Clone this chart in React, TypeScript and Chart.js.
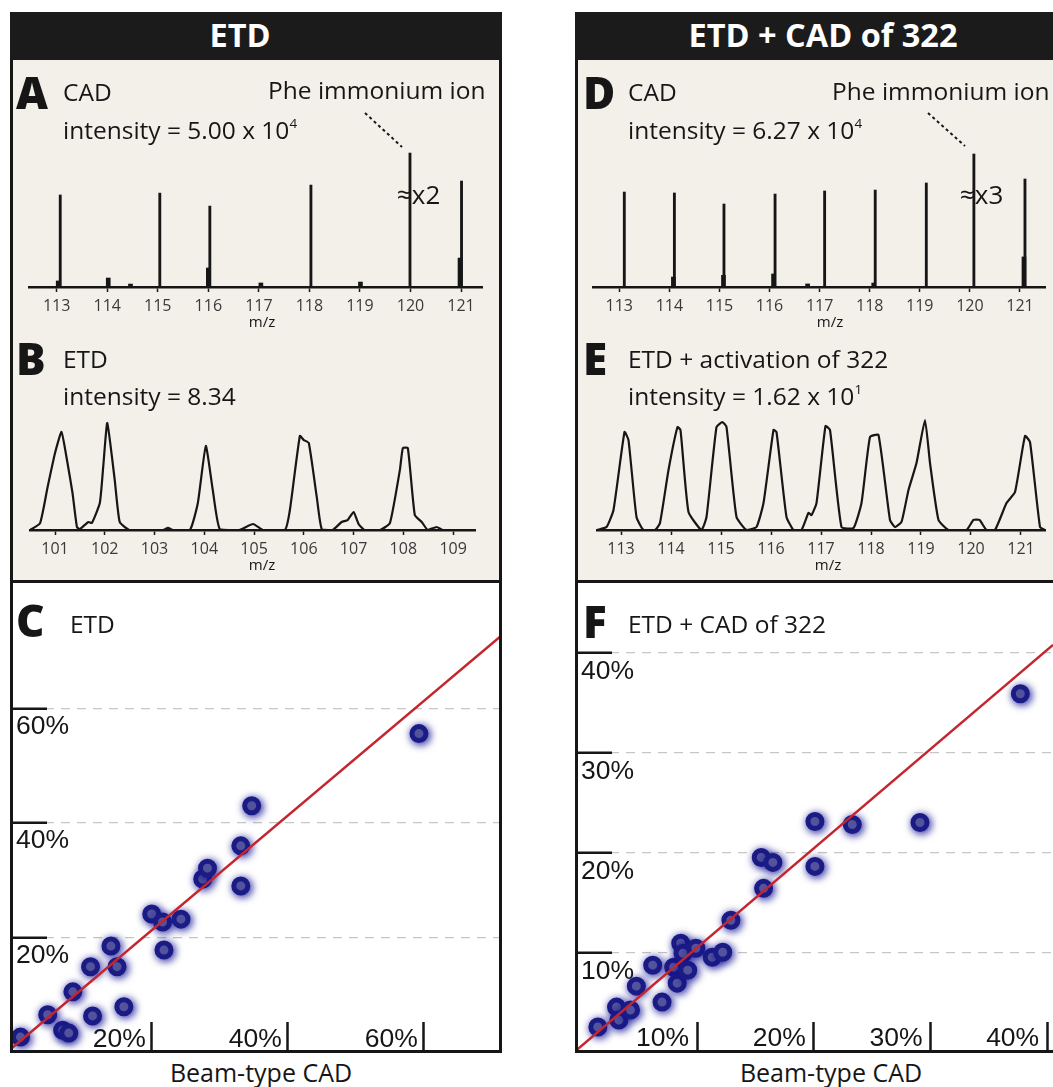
import React, { useEffect, useRef } from 'react';
import { Chart, registerables } from 'chart.js';

Chart.register(...registerables);

// ---------------- DATA ----------------
// Panel A – CAD, ETD column (stick spectrum, relative intensity; Phe immonium ion = 100)
const A_MAJOR_MZ = [113.07, 115.04, 116.03, 118.03, 119.99, 121.01];
const A_MAJOR_INT = [68.7, 70.1, 60.4, 76.1, 100, 79.1];
const A_MINOR_MZ = [113.03, 114.02, 114.46, 116.0, 117.04, 119.01, 120.98];
const A_MINOR_INT = [4.5, 6.7, 2.2, 14.2, 3.0, 3.7, 21.6];
const A_TICKS = [113, 114, 115, 116, 117, 118, 119, 120, 121];

// Panel B – ETD profile spectrum (relative intensity)
const B_MZ = [100.5, 100.7, 100.85, 101.0, 101.13, 101.24, 101.35, 101.44, 101.5, 101.67, 101.74, 101.9, 101.97, 102.05, 102.2, 102.3, 102.5, 103.17, 103.27, 103.37, 103.71, 103.87, 104.03, 104.17, 104.31, 104.7, 104.98, 105.18, 105.62, 105.72, 105.92, 106.0, 106.1, 106.26, 106.36, 106.58, 106.76, 106.88, 107.0, 107.1, 107.22, 107.53, 107.73, 107.93, 107.99, 108.09, 108.23, 108.37, 108.49, 108.67, 108.79, 109.44];
const B_INT = [0, 6.5, 40, 72, 91.6, 65.4, 35, 2.8, 0.9, 7.5, 6.5, 25.2, 60, 100, 46.7, 7.5, 0, 0, 1.9, 0, 0, 25.2, 78.5, 37.4, 0.9, 0, 5.6, 0, 0, 18.7, 87.9, 84.1, 81.3, 30.8, 0.9, 0, 7.5, 9.3, 16.8, 5.6, 0, 0, 6.5, 56, 76.6, 76.6, 14, 7.5, 0, 2.8, 0, 0];
const B_TICKS = [101, 102, 103, 104, 105, 106, 107, 108, 109];

// Panel D – CAD, ETD + CAD of 322 column
const D_MAJOR_MZ = [113.1, 114.1, 115.09, 116.11, 117.1, 118.11, 119.13, 120.08, 121.1];
const D_MAJOR_INT = [71.4, 70.7, 62.4, 69.9, 72.2, 72.9, 78.2, 100, 81.2];
const D_MINOR_MZ = [114.08, 115.08, 116.08, 116.76, 118.08, 121.08];
const D_MINOR_INT = [7.5, 8.8, 9.8, 2.3, 3.0, 22.6];
const D_TICKS = [113, 114, 115, 116, 117, 118, 119, 120, 121];

// Panel E – ETD + activation of 322 profile spectrum
const E_MZ = [112.52, 112.71, 112.85, 113.07, 113.15, 113.31, 113.45, 113.68, 113.78, 113.95, 114.13, 114.19, 114.35, 114.61, 114.71, 114.91, 115.03, 115.11, 115.31, 115.51, 115.71, 115.85, 116.05, 116.11, 116.31, 116.45, 116.61, 116.75, 116.81, 116.91, 117.09, 117.18, 117.41, 117.65, 117.81, 117.98, 118.15, 118.38, 118.48, 118.61, 118.75, 118.91, 119.08, 119.18, 119.35, 119.55, 119.91, 120.05, 120.17, 120.31, 120.48, 120.71, 120.88, 121.08, 121.18, 121.38, 121.48];
const E_INT = [0, 2.7, 18.2, 89.1, 81.8, 11.8, 0, 0, 6.4, 54.5, 93.6, 90.9, 16.4, 0, 11.8, 93.6, 98.2, 93.6, 11.8, 0, 2.7, 24.5, 90.9, 89.1, 11.8, 0, 0, 15.5, 13.6, 24.5, 94.5, 90.9, 2.7, 1.8, 24.5, 84.5, 86.4, 9.1, 2.7, 7.3, 36.4, 60.9, 100, 60.9, 9.1, 0, 0, 9.1, 9.1, 0, 0, 24.5, 34.5, 85.5, 80, 2.7, 0];
const E_TICKS = [113, 114, 115, 116, 117, 118, 119, 120, 121];

// Panel C – ETD vs beam-type CAD (%)
const C_X = [0.7, 4.7, 6.9, 7.8, 8.4, 11.0, 11.3, 14.0, 14.9, 15.9, 20.0, 21.6, 21.8, 24.3, 27.5, 28.2, 33.1, 33.1, 34.7, 59.3];
const C_Y = [2.6, 6.5, 3.8, 3.3, 10.5, 14.9, 6.3, 18.5, 14.9, 7.9, 24.1, 22.7, 17.8, 23.2, 30.2, 32.1, 36.0, 29.0, 43.0, 55.6];
const C_FIT_X = [-0.6, 71.2];
const C_FIT_Y = [0.65, 72.5];
const C_X_TICKS = [20, 40, 60];
const C_Y_TICKS = [20, 40, 60];

// Panel F – ETD + CAD of 322 vs beam-type CAD (%)
const F_X = [1.5, 3.1, 3.3, 4.3, 4.8, 6.2, 7.0, 8.0, 8.3, 8.6, 8.8, 9.2, 9.9, 11.3, 12.2, 12.9, 15.5, 16.5, 15.7, 20.1, 20.1, 23.3, 29.1, 37.7];
const F_Y = [2.5, 4.5, 3.2, 4.2, 6.6, 8.7, 5.0, 8.5, 6.9, 10.9, 9.9, 8.2, 10.4, 9.5, 10.0, 13.2, 19.5, 19.0, 16.4, 23.1, 18.6, 22.8, 23.0, 35.9];
const F_FIT_X = [-0.31, 40.5];
const F_FIT_Y = [0.2, 40.8];
const F_X_TICKS = [10, 20, 30, 40];
const F_Y_TICKS = [10, 20, 30, 40];

// ---------------- STYLE ----------------
const INK = '#161616';
const BEIGE = '#f3f0ea';
const BODY_FONT = "'Open Sans', 'Noto Sans', sans-serif";
const AXIS_FONT = "'Liberation Sans', Arial, sans-serif";

function pts(xs: number[], ys: number[]) {
  return xs.map((x, i) => ({ x, y: ys[i] }));
}

function zeroPad(s: any) {
  s.paddingLeft = 0;
  s.paddingRight = 0;
  s.paddingTop = 0;
  s.paddingBottom = 0;
}

function spectrumXAxis(min: number, max: number, ticks: number[], axisHeight: number) {
  return {
    type: 'linear',
    position: 'bottom',
    min,
    max,
    offset: false,
    afterBuildTicks: (s: any) => {
      s.ticks = ticks.map((v) => ({ value: v }));
    },
    afterFit: (s: any) => {
      s.height = axisHeight;
      zeroPad(s);
    },
    grid: { display: true, offset: false, drawOnChartArea: false, drawTicks: true, tickLength: 5, tickColor: INK, tickWidth: 1.5 },
    border: { display: true, color: INK, width: 2.5 },
    ticks: { font: { family: BODY_FONT, size: 16 }, color: '#3a3a3a', padding: 5, autoSkip: false, maxRotation: 0, minRotation: 0 },
  };
}

const baseOptions = (padL: number, padR: number) => ({
  animation: false,
  responsive: false,
  events: [],
  layout: { autoPadding: false, padding: { left: padL, right: padR, top: 0, bottom: 0 } },
  plugins: { legend: { display: false }, tooltip: { enabled: false } },
});

function stickChart(canvas: HTMLCanvasElement, c: any) {
  return new Chart(canvas, {
    type: 'bar',
    data: {
      datasets: [
        { data: pts(c.majorMz, c.majorInt), backgroundColor: INK, barThickness: 2.2, grouped: false, borderWidth: 0 },
        { data: pts(c.minorMz, c.minorInt), backgroundColor: INK, barThickness: 4, grouped: false, borderWidth: 0 },
      ],
    } as any,
    options: {
      ...baseOptions(c.padL, c.padR),
      scales: {
        x: spectrumXAxis(c.min, c.max, c.ticks, c.axisH),
        y: { display: false, min: 0, max: c.yMax },
      },
    } as any,
  });
}

function profileChart(canvas: HTMLCanvasElement, c: any) {
  return new Chart(canvas, {
    type: 'scatter',
    data: {
      datasets: [
        { data: pts(c.mz, c.int), showLine: true, borderColor: INK, borderWidth: 2.2, pointRadius: 0, tension: 0.15 },
      ],
    } as any,
    options: {
      ...baseOptions(c.padL, c.padR),
      scales: {
        x: spectrumXAxis(c.min, c.max, c.ticks, c.axisH),
        y: { display: false, min: 0, max: c.yMax },
      },
    } as any,
  });
}

const glowPlugin = {
  id: 'glow',
  beforeDatasetDraw(chart: any, args: any) {
    if (chart.data.datasets[args.index].label === 'peptides') {
      chart.ctx.save();
      chart.ctx.shadowColor = 'rgba(20,20,150,0.9)';
      chart.ctx.shadowBlur = 8;
      chart.ctx.shadowOffsetX = 1.5;
      chart.ctx.shadowOffsetY = 1.5;
    }
  },
  afterDatasetDraw(chart: any, args: any) {
    if (chart.data.datasets[args.index].label === 'peptides') {
      chart.ctx.restore();
    }
  },
};

function correlationChart(canvas: HTMLCanvasElement, c: any) {
  const tickFont = { family: AXIS_FONT, size: 26.5, lineHeight: 1 };
  return new Chart(canvas, {
    type: 'scatter',
    data: {
      datasets: [
        { label: 'fit', data: pts(c.fitX, c.fitY), showLine: true, borderColor: '#c4262e', borderWidth: 2.5, pointRadius: 0 },
        {
          label: 'peptides',
          data: pts(c.x, c.y),
          pointRadius: 7,
          borderWidth: 5,
          borderColor: '#1b1b86',
          backgroundColor: '#8a8aa4',
        },
      ],
    } as any,
    options: {
      ...baseOptions(0, 0),
      scales: {
        x: {
          type: 'linear',
          position: 'bottom',
          min: c.xMin,
          max: c.xMax,
          afterBuildTicks: (s: any) => {
            s.ticks = c.xTicks.map((v: number) => ({ value: v }));
          },
          afterFit: (s: any) => {
            s.height = 0;
            zeroPad(s);
          },
          grid: { drawOnChartArea: false, drawTicks: true, tickLength: -30, tickColor: INK, tickWidth: 2.5 },
          border: { display: false },
          ticks: {
            mirror: true,
            align: 'end',
            labelOffset: c.xLabelOffset,
            padding: c.xPad,
            font: tickFont,
            color: INK,
            autoSkip: false,
            maxRotation: 0,
            callback: (v: number) => v + '%',
          },
        },
        y: {
          type: 'linear',
          position: 'left',
          min: 0,
          max: c.yMax,
          afterBuildTicks: (s: any) => {
            s.ticks = c.yTicks.map((v: number) => ({ value: v }));
          },
          afterFit: (s: any) => {
            s.width = 0;
            zeroPad(s);
          },
          grid: { drawOnChartArea: true, color: '#c6c6c6', lineWidth: 1.3, drawTicks: true, tickLength: -34, tickColor: INK, tickWidth: 2.5 },
          border: { display: false, dash: [9, 7] },
          ticks: {
            mirror: true,
            padding: 3,
            labelOffset: c.yLabelOffset,
            font: tickFont,
            color: INK,
            autoSkip: false,
            callback: (v: number) => v + '%',
          },
        },
      },
    } as any,
    plugins: [glowPlugin],
  });
}

// ---------------- TEXT HELPERS ----------------
function Txt(p: { x: number; cy: number; size: number; bold?: boolean; weight?: number; color?: string; family?: string; mid?: boolean; children: any }) {
  const style: React.CSSProperties = {
    position: 'absolute',
    left: p.x,
    top: p.cy - 0.531 * p.size,
    fontSize: p.size,
    lineHeight: `${p.size}px`,
    fontWeight: p.weight || (p.bold ? 700 : 400),
    color: p.color || INK,
    fontFamily: p.family || BODY_FONT,
    whiteSpace: 'nowrap',
    transform: p.mid ? 'translateX(-50%)' : undefined,
  };
  return <div style={style}>{p.children}</div>;
}

const Sup = (p: { children: any }) => (
  <span style={{ fontSize: '0.55em', position: 'relative', top: '-0.8em' }}>{p.children}</span>
);

function Box(p: { left: number; width: number }) {
  return (
    <>
      <div style={{ position: 'absolute', left: p.left, top: 12, width: p.width, height: 1041, border: `3px solid ${INK}`, boxSizing: 'border-box', background: '#fff' }} />
      <div style={{ position: 'absolute', left: p.left, top: 12, width: p.width, height: 48, background: '#1b1b1b' }} />
      <div style={{ position: 'absolute', left: p.left + 3, top: 60, width: p.width - 6, height: 520, background: BEIGE }} />
      <div style={{ position: 'absolute', left: p.left, top: 580, width: p.width, height: 3, background: INK }} />
    </>
  );
}

export default function App() {
  const refA = useRef<HTMLCanvasElement>(null);
  const refB = useRef<HTMLCanvasElement>(null);
  const refC = useRef<HTMLCanvasElement>(null);
  const refD = useRef<HTMLCanvasElement>(null);
  const refE = useRef<HTMLCanvasElement>(null);
  const refF = useRef<HTMLCanvasElement>(null);

  useEffect(() => {
    const charts: Chart[] = [];
    charts.push(
      stickChart(refA.current!, {
        majorMz: A_MAJOR_MZ, majorInt: A_MAJOR_INT, minorMz: A_MINOR_MZ, minorInt: A_MINOR_INT,
        ticks: A_TICKS, min: 112.452, max: 121.415, yMax: 139.6, padL: 16, padR: 17, axisH: 53,
      })
    );
    charts.push(
      profileChart(refB.current!, {
        mz: B_MZ, int: B_INT, ticks: B_TICKS, min: 100.497, max: 109.44, yMax: 121.5, padL: 17, padR: 24, axisH: 50,
      })
    );
    charts.push(
      stickChart(refD.current!, {
        majorMz: D_MAJOR_MZ, majorInt: D_MAJOR_INT, minorMz: D_MINOR_MZ, minorInt: D_MINOR_INT,
        ticks: D_TICKS, min: 112.475, max: 121.5, yMax: 140.6, padL: 15, padR: 8, axisH: 53,
      })
    );
    charts.push(
      profileChart(refE.current!, {
        mz: E_MZ, int: E_INT, ticks: E_TICKS, min: 112.52, max: 121.48, yMax: 118.2, padL: 19, padR: 8, axisH: 50,
      })
    );
    charts.push(
      correlationChart(refC.current!, {
        x: C_X, y: C_Y, fitX: C_FIT_X, fitY: C_FIT_Y, xTicks: C_X_TICKS, yTicks: C_Y_TICKS,
        xMin: -0.4, xMax: 71.07, yMax: 81.9, xLabelOffset: -6, xPad: -1, yLabelOffset: 18,
      })
    );
    charts.push(
      correlationChart(refF.current!, {
        x: F_X, y: F_Y, fitX: F_FIT_X, fitY: F_FIT_Y, xTicks: F_X_TICKS, yTicks: F_Y_TICKS,
        xMin: -0.2, xMax: 40.5, yMax: 47.0, xLabelOffset: -8, xPad: 0, yLabelOffset: 19,
      })
    );
    return () => charts.forEach((c) => c.destroy());
  }, []);

  const cv = (left: number, top: number): React.CSSProperties => ({ position: 'absolute', left, top });

  return (
    <div style={{ position: 'absolute', left: 0, top: 0, width: 1053, height: 1087, overflow: 'hidden', background: '#fff', fontFamily: BODY_FONT }}>
      <Box left={10} width={492} />
      <Box left={575} width={500} />

      <canvas ref={refA} width={486} height={240} style={cv(13, 100)} />
      <canvas ref={refB} width={486} height={180} style={cv(13, 400)} />
      <canvas ref={refC} width={486} height={469} style={cv(13, 583)} />
      <canvas ref={refD} width={475} height={240} style={cv(578, 100)} />
      <canvas ref={refE} width={475} height={180} style={cv(578, 400)} />
      <canvas ref={refF} width={475} height={469} style={cv(578, 583)} />

      {/* headers */}
      <Txt x={240} cy={36.5} size={32.5} bold color="#fff" mid>ETD</Txt>
      <Txt x={823} cy={36.5} size={32.5} bold color="#fff" mid>ETD + CAD of 322</Txt>

      {/* Panel A */}
      <Txt x={16} cy={93.5} size={44} weight={800}>A</Txt>
      <Txt x={63} cy={93.5} size={24.5}>CAD</Txt>
      <Txt x={63} cy={131} size={24.5}>intensity = 5.00 x 10<Sup>4</Sup></Txt>
      <Txt x={268} cy={91} size={24.5}>Phe immonium ion</Txt>
      <Txt x={397} cy={195} size={26}>≈x2</Txt>
      <Txt x={262} cy={322} size={15} mid>m/z</Txt>

      {/* Panel B */}
      <Txt x={16} cy={359} size={44} weight={800}>B</Txt>
      <Txt x={63} cy={360} size={24.5}>ETD</Txt>
      <Txt x={63} cy={397} size={24.5}>intensity = 8.34</Txt>
      <Txt x={262} cy={565} size={15} mid>m/z</Txt>

      {/* Panel C */}
      <Txt x={16} cy={621} size={44} weight={800}>C</Txt>
      <Txt x={70} cy={625} size={24.5}>ETD</Txt>
      <Txt x={261} cy={1073} size={25} mid>Beam-type CAD</Txt>

      {/* Panel D */}
      <Txt x={583} cy={93} size={44} weight={800}>D</Txt>
      <Txt x={628} cy={93} size={24.5}>CAD</Txt>
      <Txt x={628} cy={131} size={24.5}>intensity = 6.27 x 10<Sup>4</Sup></Txt>
      <Txt x={832} cy={92} size={24.5}>Phe immonium ion</Txt>
      <Txt x={960} cy={195} size={26}>≈x3</Txt>
      <Txt x={830} cy={322} size={15} mid>m/z</Txt>

      {/* Panel E */}
      <Txt x={583} cy={359} size={44} weight={800}>E</Txt>
      <Txt x={628} cy={360} size={24.5}>ETD + activation of 322</Txt>
      <Txt x={628} cy={397} size={24.5}>intensity = 1.62 x 10<Sup>1</Sup></Txt>
      <Txt x={828} cy={565} size={15} mid>m/z</Txt>

      {/* Panel F */}
      <Txt x={583} cy={622} size={44} weight={800}>F</Txt>
      <Txt x={628} cy={625} size={24.5}>ETD + CAD of 322</Txt>
      <Txt x={831} cy={1073} size={25} mid>Beam-type CAD</Txt>

      {/* leader lines to the Phe immonium ion */}
      <svg width={1053} height={200} style={{ position: 'absolute', left: 0, top: 0, pointerEvents: 'none' }}>
        <line x1={365} y1={113} x2={402} y2={147} stroke={INK} strokeWidth={2} strokeDasharray="3 3" />
        <line x1={928} y1={113} x2={965} y2={146} stroke={INK} strokeWidth={2} strokeDasharray="3 3" />
      </svg>
    </div>
  );
}
